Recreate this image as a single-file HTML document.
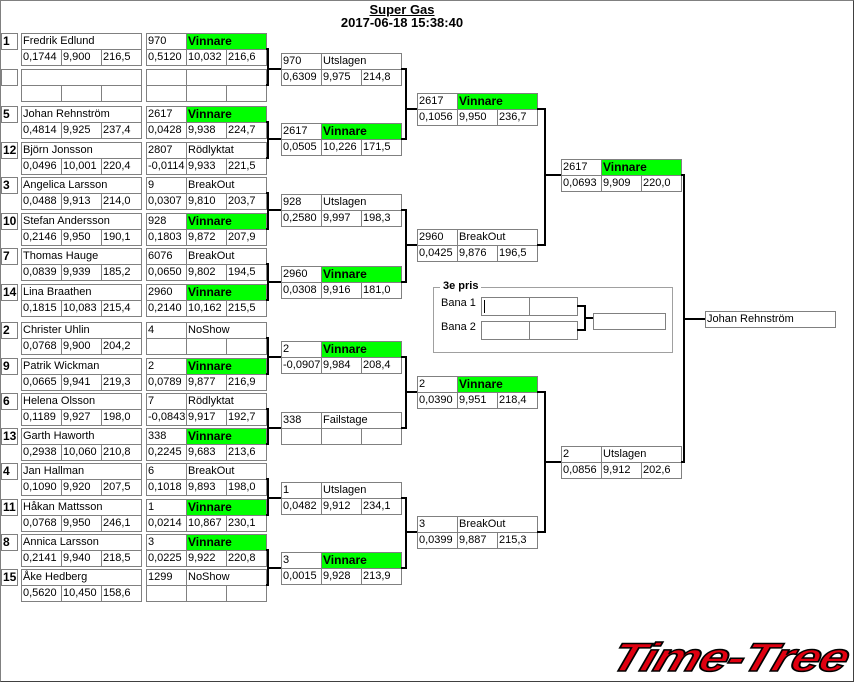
<!DOCTYPE html>
<html><head><meta charset="utf-8"><style>
*{margin:0;padding:0}
body{width:854px;height:684px;background:#fff;position:relative;overflow:hidden;font-family:"Liberation Sans",sans-serif}
#frame{position:absolute;left:0;top:0;width:852px;height:680px;border:1px solid #808080;border-right-color:#404040;border-bottom-color:#404040}
.e,.m{position:absolute;left:0;width:1px;height:1px}
.e>*,.m>*{position:absolute;box-sizing:border-box;border:1px solid #808080;height:17px;font-size:11px;line-height:15px;padding-left:1px;white-space:nowrap;overflow:hidden;font-style:normal;font-weight:normal;color:#000;background:#fff}
.s{left:1px;top:0;width:17px;font-weight:bold!important;font-size:12px!important}
.n{left:21px;top:0;width:121px}
.p1{left:21px;top:16px;width:41px}.p2{left:61px;top:16px;width:41px}.p3{left:101px;top:16px;width:41px}
.q0{left:146px;top:0;width:41px}.qs{left:186px;top:0;width:81px}
.q1{left:146px;top:16px;width:41px}.q2{left:186px;top:16px;width:41px}.q3{left:226px;top:16px;width:41px}
.k0{left:0;top:0;width:41px}.ks{left:40px;top:0;width:81px}
.k1{left:0;top:16px;width:41px}.k2{left:40px;top:16px;width:41px}.k3{left:80px;top:16px;width:41px}
.g{background:#00ff00!important;font-weight:bold!important;font-size:12px!important}
.t{position:absolute;font-weight:bold;font-size:13px;width:854px;text-align:center;left:-25px}
</style></head><body>
<div id="frame"></div>
<div class="t" style="top:2px"><u>Super Gas</u></div>
<div class="t" style="top:15px">2017-06-18 15:38:40</div>

<div class="e" style="top:33px"><i class="s">1</i><i class="n">Fredrik Edlund</i><i class="p1">0,1744</i><i class="p2">9,900</i><i class="p3">216,5</i><i class="q0">970</i><i class="qs g">Vinnare</i><i class="q1">0,5120</i><i class="q2">10,032</i><i class="q3">216,6</i></div>
<div class="e" style="top:69px"><i class="s"></i><i class="n"></i><i class="p1"></i><i class="p2"></i><i class="p3"></i><i class="q0"></i><i class="qs"></i><i class="q1"></i><i class="q2"></i><i class="q3"></i></div>
<div class="e" style="top:106px"><i class="s">5</i><i class="n">Johan Rehnström</i><i class="p1">0,4814</i><i class="p2">9,925</i><i class="p3">237,4</i><i class="q0">2617</i><i class="qs g">Vinnare</i><i class="q1">0,0428</i><i class="q2">9,938</i><i class="q3">224,7</i></div>
<div class="e" style="top:142px"><i class="s">12</i><i class="n">Björn Jonsson</i><i class="p1">0,0496</i><i class="p2">10,001</i><i class="p3">220,4</i><i class="q0">2807</i><i class="qs">Rödlyktat</i><i class="q1">-0,0114</i><i class="q2">9,933</i><i class="q3">221,5</i></div>
<div class="e" style="top:177px"><i class="s">3</i><i class="n">Angelica Larsson</i><i class="p1">0,0488</i><i class="p2">9,913</i><i class="p3">214,0</i><i class="q0">9</i><i class="qs">BreakOut</i><i class="q1">0,0307</i><i class="q2">9,810</i><i class="q3">203,7</i></div>
<div class="e" style="top:213px"><i class="s">10</i><i class="n">Stefan Andersson</i><i class="p1">0,2146</i><i class="p2">9,950</i><i class="p3">190,1</i><i class="q0">928</i><i class="qs g">Vinnare</i><i class="q1">0,1803</i><i class="q2">9,872</i><i class="q3">207,9</i></div>
<div class="e" style="top:248px"><i class="s">7</i><i class="n">Thomas Hauge</i><i class="p1">0,0839</i><i class="p2">9,939</i><i class="p3">185,2</i><i class="q0">6076</i><i class="qs">BreakOut</i><i class="q1">0,0650</i><i class="q2">9,802</i><i class="q3">194,5</i></div>
<div class="e" style="top:284px"><i class="s">14</i><i class="n">Lina Braathen</i><i class="p1">0,1815</i><i class="p2">10,083</i><i class="p3">215,4</i><i class="q0">2960</i><i class="qs g">Vinnare</i><i class="q1">0,2140</i><i class="q2">10,162</i><i class="q3">215,5</i></div>
<div class="e" style="top:322px"><i class="s">2</i><i class="n">Christer Uhlin</i><i class="p1">0,0768</i><i class="p2">9,900</i><i class="p3">204,2</i><i class="q0">4</i><i class="qs">NoShow</i><i class="q1"></i><i class="q2"></i><i class="q3"></i></div>
<div class="e" style="top:358px"><i class="s">9</i><i class="n">Patrik Wickman</i><i class="p1">0,0665</i><i class="p2">9,941</i><i class="p3">219,3</i><i class="q0">2</i><i class="qs g">Vinnare</i><i class="q1">0,0789</i><i class="q2">9,877</i><i class="q3">216,9</i></div>
<div class="e" style="top:393px"><i class="s">6</i><i class="n">Helena Olsson</i><i class="p1">0,1189</i><i class="p2">9,927</i><i class="p3">198,0</i><i class="q0">7</i><i class="qs">Rödlyktat</i><i class="q1">-0,0843</i><i class="q2">9,917</i><i class="q3">192,7</i></div>
<div class="e" style="top:428px"><i class="s">13</i><i class="n">Garth Haworth</i><i class="p1">0,2938</i><i class="p2">10,060</i><i class="p3">210,8</i><i class="q0">338</i><i class="qs g">Vinnare</i><i class="q1">0,2245</i><i class="q2">9,683</i><i class="q3">213,6</i></div>
<div class="e" style="top:463px"><i class="s">4</i><i class="n">Jan Hallman</i><i class="p1">0,1090</i><i class="p2">9,920</i><i class="p3">207,5</i><i class="q0">6</i><i class="qs">BreakOut</i><i class="q1">0,1018</i><i class="q2">9,893</i><i class="q3">198,0</i></div>
<div class="e" style="top:499px"><i class="s">11</i><i class="n">Håkan Mattsson</i><i class="p1">0,0768</i><i class="p2">9,950</i><i class="p3">246,1</i><i class="q0">1</i><i class="qs g">Vinnare</i><i class="q1">0,0214</i><i class="q2">10,867</i><i class="q3">230,1</i></div>
<div class="e" style="top:534px"><i class="s">8</i><i class="n">Annica Larsson</i><i class="p1">0,2141</i><i class="p2">9,940</i><i class="p3">218,5</i><i class="q0">3</i><i class="qs g">Vinnare</i><i class="q1">0,0225</i><i class="q2">9,922</i><i class="q3">220,8</i></div>
<div class="e" style="top:569px"><i class="s">15</i><i class="n">Åke Hedberg</i><i class="p1">0,5620</i><i class="p2">10,450</i><i class="p3">158,6</i><i class="q0">1299</i><i class="qs">NoShow</i><i class="q1"></i><i class="q2"></i><i class="q3"></i></div>

<div class="m" style="left:281px;top:53px"><i class="k0">970</i><i class="ks">Utslagen</i><i class="k1">0,6309</i><i class="k2">9,975</i><i class="k3">214,8</i></div>
<div class="m" style="left:281px;top:123px"><i class="k0">2617</i><i class="ks g">Vinnare</i><i class="k1">0,0505</i><i class="k2">10,226</i><i class="k3">171,5</i></div>
<div class="m" style="left:281px;top:194px"><i class="k0">928</i><i class="ks">Utslagen</i><i class="k1">0,2580</i><i class="k2">9,997</i><i class="k3">198,3</i></div>
<div class="m" style="left:281px;top:266px"><i class="k0">2960</i><i class="ks g">Vinnare</i><i class="k1">0,0308</i><i class="k2">9,916</i><i class="k3">181,0</i></div>
<div class="m" style="left:281px;top:341px"><i class="k0">2</i><i class="ks g">Vinnare</i><i class="k1">-0,0907</i><i class="k2">9,984</i><i class="k3">208,4</i></div>
<div class="m" style="left:281px;top:412px"><i class="k0">338</i><i class="ks">Failstage</i><i class="k1"></i><i class="k2"></i><i class="k3"></i></div>
<div class="m" style="left:281px;top:482px"><i class="k0">1</i><i class="ks">Utslagen</i><i class="k1">0,0482</i><i class="k2">9,912</i><i class="k3">234,1</i></div>
<div class="m" style="left:281px;top:552px"><i class="k0">3</i><i class="ks g">Vinnare</i><i class="k1">0,0015</i><i class="k2">9,928</i><i class="k3">213,9</i></div>

<div class="m" style="left:417px;top:93px"><i class="k0">2617</i><i class="ks g">Vinnare</i><i class="k1">0,1056</i><i class="k2">9,950</i><i class="k3">236,7</i></div>
<div class="m" style="left:417px;top:229px"><i class="k0">2960</i><i class="ks">BreakOut</i><i class="k1">0,0425</i><i class="k2">9,876</i><i class="k3">196,5</i></div>
<div class="m" style="left:417px;top:376px"><i class="k0">2</i><i class="ks g">Vinnare</i><i class="k1">0,0390</i><i class="k2">9,951</i><i class="k3">218,4</i></div>
<div class="m" style="left:417px;top:516px"><i class="k0">3</i><i class="ks">BreakOut</i><i class="k1">0,0399</i><i class="k2">9,887</i><i class="k3">215,3</i></div>

<div class="m" style="left:561px;top:159px"><i class="k0">2617</i><i class="ks g">Vinnare</i><i class="k1">0,0693</i><i class="k2">9,909</i><i class="k3">220,0</i></div>
<div class="m" style="left:561px;top:446px"><i class="k0">2</i><i class="ks">Utslagen</i><i class="k1">0,0856</i><i class="k2">9,912</i><i class="k3">202,6</i></div>

<div class="m" style="left:705px;top:311px"><i style="left:0;top:0;width:131px">Johan Rehnström</i></div>

<div style="position:absolute;left:433px;top:287px;width:238px;height:64px;border:1px solid #a0a0a0"></div>
<div style="position:absolute;left:440px;top:280px;background:#fff;padding:0 3px;font-weight:bold;font-size:11px">3e pris</div>
<div style="position:absolute;left:441px;top:297px;font-size:11px">Bana 1</div>
<div style="position:absolute;left:441px;top:321px;font-size:11px">Bana 2</div>
<div class="m" style="left:481px;top:297px"><i style="left:0;top:0;width:49px;height:19px"></i><i style="left:48px;top:0;width:49px;height:19px"></i><i style="left:0;top:24px;width:49px;height:19px"></i><i style="left:48px;top:24px;width:49px;height:19px"></i><i style="left:112px;top:16px;width:73px;height:17px"></i></div>
<div style="position:absolute;left:484px;top:300px;width:1px;height:13px;background:#000"></div>

<svg style="position:absolute;left:0;top:0" width="854" height="684">
<g fill="none" stroke="#000" stroke-width="2">
<path d="M266 49H268V85H266M268 69H281"/>
<path d="M266 122H268V158H266M268 139H281"/>
<path d="M266 193H268V229H266M268 210H281"/>
<path d="M266 264H268V300H266M268 282H281"/>
<path d="M266 338H268V374H266M268 357H281"/>
<path d="M266 409H268V444H266M268 428H281"/>
<path d="M266 479H268V515H266M268 498H281"/>
<path d="M266 550H268V585H266M268 568H281"/>
<path d="M401 69H406V139H401M406 109H417"/>
<path d="M401 210H406V282H401M406 245H417"/>
<path d="M401 357H406V428H401M406 392H417"/>
<path d="M401 498H406V568H401M406 532H417"/>
<path d="M537 109H545V245H537M545 175H561"/>
<path d="M537 392H545V532H537M545 462H561"/>
<path d="M681 175H684V462H681M684 319H705"/>
<path d="M577 306H585V330H577M585 318H593"/>
</g></svg>

<div style="position:absolute;left:620px;top:636px;font-family:'Liberation Sans',sans-serif;font-weight:bold;font-style:italic;font-size:40px;color:#e00010;-webkit-text-stroke:1.5px #000;letter-spacing:-1px;transform-origin:left top;transform:skewX(-18deg) scaleX(1.3);line-height:44px">Time-Tree</div>
</body></html>
